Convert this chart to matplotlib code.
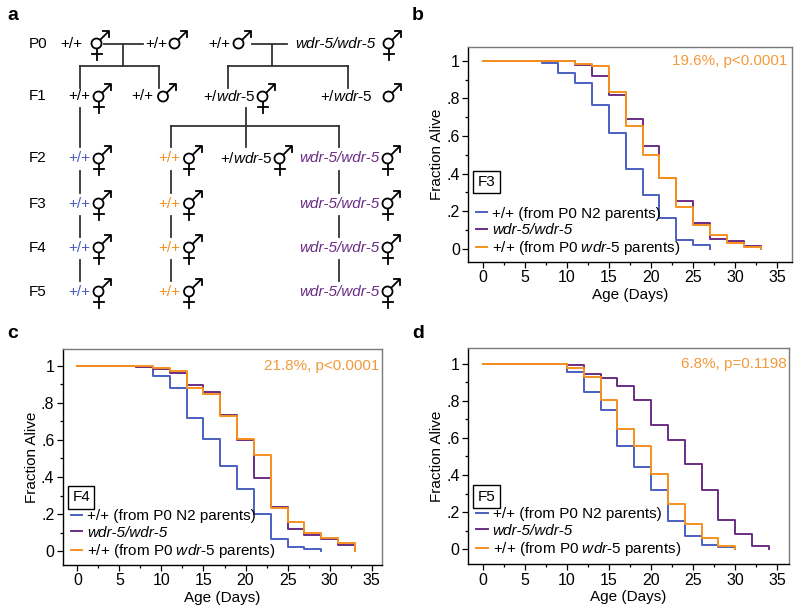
import numpy as np
import matplotlib
matplotlib.use("Agg")
import matplotlib.pyplot as plt
from matplotlib.patches import Circle
from matplotlib.ticker import MultipleLocator, FixedLocator, FixedFormatter
from matplotlib.transforms import blended_transform_factory

plt.rcParams['font.family'] = ['Liberation Sans', 'DejaVu Sans']
plt.rcParams['mathtext.fontset'] = 'custom'
plt.rcParams['mathtext.rm'] = 'Liberation Sans'
plt.rcParams['mathtext.it'] = 'Liberation Sans:italic'

BLUE = '#4b5fc0'
PURPLE = '#6a2d84'
ORANGE = '#f7901e'
NOTE = '#f39a3c'

# ---- survival data (day of step, fraction alive after the step) ----
# b: F3
b_n2_t = [0, 7, 9, 11, 13, 15, 17, 19, 21, 23, 25, 27]
b_n2_s = [1.0, 0.988, 0.935, 0.88, 0.765, 0.615, 0.425, 0.287, 0.162, 0.047, 0.022, 0.0]
b_wdr_t = [0, 11, 13, 15, 17, 19, 21, 23, 25, 27, 29, 31, 33]
b_wdr_s = [1.0, 0.978, 0.917, 0.816, 0.693, 0.547, 0.376, 0.254, 0.136, 0.05, 0.04, 0.015, 0.0]
b_wt_t = [0, 11, 13, 15, 17, 19, 21, 23, 25, 27, 29, 31, 33]
b_wt_s = [1.0, 0.985, 0.97, 0.835, 0.652, 0.5, 0.375, 0.225, 0.128, 0.072, 0.03, 0.01, 0.0]

# c: F4
c_n2_t = [0, 7, 9, 11, 13, 15, 17, 19, 21, 23, 25, 27, 29]
c_n2_s = [1.0, 0.995, 0.946, 0.88, 0.716, 0.607, 0.461, 0.338, 0.2, 0.065, 0.025, 0.014, 0.0]
c_wdr_t = [0, 7, 9, 11, 13, 15, 17, 19, 21, 23, 25, 27, 29, 31, 33]
c_wdr_s = [1.0, 0.995, 0.98, 0.96, 0.896, 0.86, 0.734, 0.6, 0.393, 0.24, 0.12, 0.088, 0.068, 0.032, 0.0]
c_wt_t = [0, 7, 9, 11, 13, 15, 17, 19, 21, 23, 25, 27, 29, 31, 33]
c_wt_s = [1.0, 0.998, 0.99, 0.97, 0.88, 0.848, 0.727, 0.605, 0.519, 0.235, 0.16, 0.097, 0.074, 0.047, 0.0]

# d: F5
d_n2_t = [0, 10, 12, 14, 16, 18, 20, 22, 24, 26, 28, 30]
d_n2_s = [1.0, 0.953, 0.849, 0.749, 0.557, 0.443, 0.32, 0.154, 0.07, 0.022, 0.014, 0.0]
d_wdr_t = [0, 10, 12, 14, 16, 18, 20, 22, 24, 26, 28, 30, 32, 34]
d_wdr_s = [1.0, 0.995, 0.944, 0.921, 0.88, 0.804, 0.67, 0.589, 0.458, 0.32, 0.158, 0.081, 0.02, 0.0]
d_wt_t = [0, 8, 10, 12, 14, 16, 18, 20, 22, 24, 26, 28, 30]
d_wt_s = [1.0, 0.996, 0.975, 0.926, 0.804, 0.646, 0.557, 0.404, 0.242, 0.136, 0.063, 0.02, 0.0]

legend_labels = ['+/+ (from P0 N2 parents)',
                 'wdr-5/wdr-5',
                 r'+/+ (from P0 $\mathit{wdr}$-$\mathit{5}$ parents)']
generations = ['F3', 'F4', 'F5']
notes = ['19.6%, p<0.0001', '21.8%, p<0.0001', '6.8%, p=0.1198']
xticks = [0, 5, 10, 15, 20, 25, 30, 35]
yticks = [0, 0.2, 0.4, 0.6, 0.8, 1.0]
ytick_labels = ['0', '.2', '.4', '.6', '.8', '1']

fig = plt.figure(figsize=(8, 6.15), dpi=100)

# ---------------- panel a: crossing scheme, pixel coordinates ----------------
axa = fig.add_axes([0, 0, 1, 1])
axa.set_xlim(0, 800)
axa.set_ylim(615, 0)
axa.axis('off')

LW = 1.3


def sex(cx, cy, herm):
    r = 5.0
    axa.add_patch(Circle((cx, cy), r, fill=False, lw=LW, ec='k'))
    ex, ey = cx + r * 0.707, cy - r * 0.707
    tx, ty = cx + 12.5, cy - 12.5
    axa.plot([ex, tx], [ey, ty], color='k', lw=LW, solid_capstyle='butt')
    axa.plot([tx - 6, tx, tx], [ty, ty, ty + 6], color='k', lw=LW)
    if herm:
        axa.plot([cx, cx], [cy + r, cy + r + 11], color='k', lw=LW)
        axa.plot([cx - 5, cx + 5], [cy + r + 5.5, cy + r + 5.5], color='k', lw=LW)


def lab(x, y, s, color='k', italic=False):
    axa.text(x, y, s, color=color, fontsize=11, ha='left', va='center',
             fontstyle='italic' if italic else 'normal')


rows = {'P0': 43.5, 'F1': 96.5, 'F2': 158.5, 'F3': 203.5, 'F4': 247.5, 'F5': 291.5}
for name, y in rows.items():
    lab(29, y, name)

het = r'+/$\mathit{wdr}$-$\mathit{5}$'
y = rows['P0']
lab(60, y, '+/+'); sex(96.5, y, True)
lab(145, y, '+/+'); sex(174.5, y, False)
lab(208, y, '+/+'); sex(238.5, y, False)
lab(295, y, 'wdr-5/wdr-5', italic=True); sex(388.5, y, True)
y = rows['F1']
lab(68, y, '+/+'); sex(98.5, y, True)
lab(131.5, y, '+/+'); sex(163, y, False)
lab(203, y, het); sex(262.5, y, True)
lab(320, y, het); sex(388.5, y, False)
y = rows['F2']
lab(220, y, het); sex(279.5, y, True)
for g in ['F2', 'F3', 'F4', 'F5']:
    y = rows[g]
    lab(68, y, '+/+', BLUE); sex(98.5, y, True)
    lab(158, y, '+/+', ORANGE); sex(189, y, True)
    lab(299, y, 'wdr-5/wdr-5', PURPLE, italic=True); sex(387.5, y, True)

tree = [
    ((104, 143), (43.5, 43.5)), ((122.7, 122.7), (43.5, 65.5)), ((80, 159), (65.5, 65.5)),
    ((80, 80), (65.5, 88)), ((159, 159), (65.5, 88)),
    ((252, 287), (43.5, 43.5)), ((271.7, 271.7), (43.5, 65.5)), ((227.7, 347.7), (65.5, 65.5)),
    ((227.7, 227.7), (65.5, 88)), ((347.7, 347.7), (65.5, 88)),
    ((80, 80), (107.5, 147)), ((246, 246), (107.5, 147)), ((171, 339), (126, 126)),
    ((171, 171), (126, 147)), ((339, 339), (126, 147)),
]
for xs, ys in tree:
    axa.plot(xs, ys, color='#333333', lw=LW)
gens = ['F2', 'F3', 'F4', 'F5']
for g0, g1 in zip(gens[:-1], gens[1:]):
    for x in (80, 171, 339):
        axa.plot([x, x], [rows[g0] + 12, rows[g1] - 11], color='#333333', lw=LW)

for s, x, y in [('a', 7, 15), ('b', 412, 15), ('c', 7, 334), ('d', 412, 334)]:
    axa.text(x, y, s, fontsize=14, fontweight='bold', ha='left', va='center')

# ---------------- survival panels ----------------
panels = [
    dict(rect=[0.5854, 0.5745, 0.4043, 0.3496], xlim=(-1.69, 36.7), ylim=(-0.068, 1.075),
         data=[(b_n2_t, b_n2_s), (b_wdr_t, b_wdr_s), (b_wt_t, b_wt_s)], boxy=0.355, notex=0.985),
    dict(rect=[0.0784, 0.0813, 0.3988, 0.3507], xlim=(-1.74, 36.2), ylim=(-0.074, 1.088),
         data=[(c_n2_t, c_n2_s), (c_wdr_t, c_wdr_s), (c_wt_t, c_wt_s)], boxy=0.29, notex=0.993),
    dict(rect=[0.585, 0.0824, 0.4013, 0.3522], xlim=(-1.75, 36.4), ylim=(-0.081, 1.086),
         data=[(d_n2_t, d_n2_s), (d_wdr_t, d_wdr_s), (d_wt_t, d_wt_s)], boxy=0.283, notex=0.993),
]

for i, p in enumerate(panels):
    ax = fig.add_axes(p['rect'])
    lines = []
    for (t, s), col in zip(p['data'], [BLUE, PURPLE, ORANGE]):
        ln, = ax.step(t, s, where='post', color=col, lw=1.4)
        lines.append(ln)
    ax.set_xlim(*p['xlim'])
    ax.set_ylim(*p['ylim'])
    ax.xaxis.set_major_locator(FixedLocator(xticks))
    ax.xaxis.set_minor_locator(MultipleLocator(2.5))
    ax.yaxis.set_major_locator(FixedLocator(yticks))
    ax.yaxis.set_major_formatter(FixedFormatter(ytick_labels))
    ax.yaxis.set_minor_locator(MultipleLocator(0.1))
    ax.tick_params(which='major', direction='out', length=4, width=0.9, pad=2, labelsize=11.5)
    ax.tick_params(which='minor', direction='out', length=2.2, width=0.9)
    for side in ['top', 'right']:
        ax.spines[side].set_color('#7a7a7a')
    for side in ax.spines:
        ax.spines[side].set_linewidth(1.0)

    ax.set_xlabel('Age (Days)', fontsize=11)
    ax.set_ylabel('Fraction Alive', fontsize=11)
    ax.xaxis.set_label_coords(0.5, -33 / 216)
    ax.xaxis.label.set_va('center')
    ax.yaxis.set_label_coords(-31.5 / 322, 0.5)
    ax.yaxis.label.set_va('center')

    leg = ax.legend(lines, legend_labels, loc='center left', bbox_to_anchor=(-0.8, 0.09),
                    bbox_transform=ax.transData, frameon=False, fontsize=11,
                    handlelength=0.76, handletextpad=0.33, labelspacing=0.16,
                    borderpad=0, borderaxespad=0)
    leg.get_texts()[1].set_fontstyle('italic')

    ax.text(-0.6, p['boxy'], generations[i], fontsize=11, ha='left', va='center',
            bbox=dict(boxstyle='square,pad=0.28', fc='white', ec='black', lw=1.0))
    ax.text(p['notex'], 1.0, notes[i], fontsize=11, color=NOTE, ha='right', va='center',
            transform=blended_transform_factory(ax.transAxes, ax.transData))

fig.savefig('out.png', dpi=100)
